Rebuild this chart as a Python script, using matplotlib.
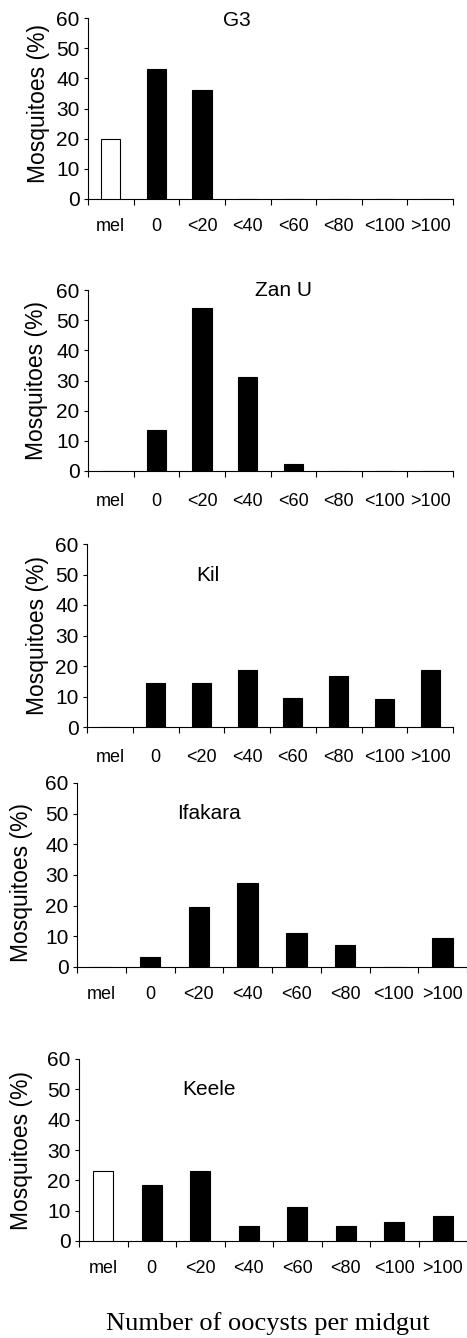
import matplotlib
matplotlib.use('Agg')
import matplotlib.pyplot as plt
import numpy as np

# oocyst count classes (mel = melanised)
categories = ['mel', '0', '<20', '<40', '<60', '<80', '<100', '>100']

# percent of mosquitoes per class
g3 = [20, 43, 36, 0, 0, 0, 0, 0]
zan_u = [0, 13.5, 54, 31.3, 2.2, 0, 0, 0]
kil = [0, 14.3, 14.3, 18.8, 9.6, 16.6, 9.2, 18.7]
ifakara = [0, 3.1, 19.5, 27.3, 11.1, 7.2, 0, 9.3]
keele = [23, 18.4, 23.1, 5.1, 11.3, 5.1, 6.1, 8.3]

strains = ['G3', 'Zan U', 'Kil', 'Ifakara', 'Keele']
series = [g3, zan_u, kil, ifakara, keele]

plt.rcParams['font.family'] = ['Liberation Sans', 'DejaVu Sans']

W, H = 467, 1338
fig = plt.figure(figsize=(W / 100, H / 100), dpi=100)

# panel boxes in pixels: left, top, right, bottom
boxes = [(88, 18, 453, 199),
         (88, 290, 453, 471),
         (87, 544, 453, 727),
         (77, 783, 467, 967),
         (79, 1059, 467, 1241)]
# where the strain name sits (category units, % units)
name_pos = [(2.77, 59.3), (3.78, 60), (2.15, 49.8), (2.2, 50.2), (2.19, 50.1)]
label_x = [-0.136, -0.140, -0.136, -0.142, -0.148]
label_y = [0.53, 0.5, 0.5, 0.46, 0.5]
xpad = [14, 15.5, 15.5, 14, 14]

x = np.arange(len(categories))

for i, (name, vals) in enumerate(zip(strains, series)):
    l, t, r, b = boxes[i]
    ax = fig.add_axes([l / W, 1 - b / H, (r - l) / W, (b - t) / H])

    colors = ['white'] + ['black'] * (len(categories) - 1)
    ax.bar(x, vals, width=0.42, color=colors, edgecolor='black', linewidth=0.8, zorder=3)

    ax.set_xlim(-0.5, len(categories) - 0.5)
    ax.set_ylim(0, 60)
    ax.set_yticks([0, 10, 20, 30, 40, 50, 60])

    ax.set_xticks(np.arange(len(categories) + 1) - 0.5)
    ax.set_xticklabels([])
    ax.set_xticks(x, minor=True)
    ax.set_xticklabels(categories, minor=True)
    ax.tick_params(axis='x', which='major', direction='out', length=4, width=0.8)
    ax.tick_params(axis='x', which='minor', length=0, pad=xpad[i], labelsize=13)
    ax.tick_params(axis='y', direction='out', length=3, width=0.8, pad=3, labelsize=15)

    for side in ['top', 'right']:
        ax.spines[side].set_visible(False)
    for side in ['left', 'bottom']:
        ax.spines[side].set_linewidth(0.8)

    ax.set_ylabel('Mosquitoes (%)', fontsize=16.5, va='center')
    ax.yaxis.set_label_coords(label_x[i], label_y[i])

    ax.text(name_pos[i][0], name_pos[i][1], name, ha='center', va='center', fontsize=15)

fig.text(268 / W, 1 - 1330 / H, 'Number of oocysts per midgut',
         family='Liberation Serif', fontsize=19, ha='center', va='baseline')

fig.savefig('out.png', dpi=100)
